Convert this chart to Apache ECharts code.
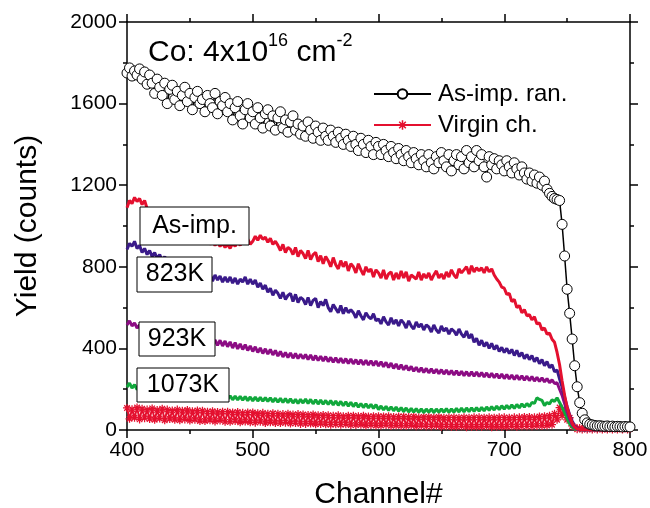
<!DOCTYPE html>
<html>
<head>
<meta charset="utf-8">
<script src="https://cdn.jsdelivr.net/npm/echarts@6/dist/echarts.min.js"></script>
<style>html,body{margin:0;padding:0;background:#fff}#c{width:650px;height:508px}</style>
</head>
<body>
<div id="c"></div>
<script>
// channel axis: 400..800 in steps of 2
const startChannel = 400, channelStep = 2;
const xTicks = [400, 500, 600, 700, 800];
const yTicks = [0, 400, 800, 1200, 1600, 2000];

// As-implanted, random (open circles)
const asImpRandom = [
 1750,1775,1735,1760,1740,1770,1720,1755,1695,1740,
 1700,1650,1720,1680,1640,1700,1600,1670,1690,1620,
 1660,1590,1640,1680,1610,1650,1570,1630,1660,1600,
 1620,1560,1640,1600,1580,1650,1550,1610,1590,1630,
 1560,1600,1520,1580,1610,1540,1500,1570,1600,1530,
 1560,1500,1580,1530,1480,1550,1570,1490,1540,1470,
 1530,1560,1480,1520,1460,1510,1540,1470,1500,1450,
 1490,1440,1510,1470,1430,1490,1460,1420,1480,1440,
 1420,1470,1440,1410,1460,1430,1400,1450,1420,1390,
 1440,1400,1370,1430,1400,1360,1420,1390,1350,1410,
 1390,1350,1400,1370,1340,1390,1360,1330,1380,1350,
 1320,1370,1340,1310,1360,1330,1300,1350,1320,1290,
 1350,1310,1280,1340,1310,1360,1320,1290,1350,1270,
 1320,1350,1300,1340,1280,1370,1310,1340,1290,1370,
 1320,1350,1290,1240,1340,1300,1330,1280,1320,1300,
 1270,1320,1290,1260,1310,1280,1250,1290,1260,1230,
 1260,1220,1250,1210,1240,1200,1220,1180,1160,1145,
 1135,1130,1125,1008,853,690,572,446,315,212,
 134,82,50,35,28,25,22,20,21,19,
 18,20,17,19,16,18,17,15,17,16,
 15
];
// As-implanted, aligned (red)
const asImp = [
 1090,1125,1110,1140,1120,1135,1105,1125,1085,1075,
 1070,1040,1055,1025,1040,1010,1025,995,1005,980,
 990,960,975,950,965,940,955,930,950,925,
 940,915,935,910,925,905,920,900,915,895,
 910,890,915,900,925,905,930,915,935,910,
 925,950,930,955,935,945,920,940,910,925,
 905,880,910,870,895,885,860,895,850,880,
 865,840,880,835,860,870,825,855,815,850,
 830,800,845,810,790,830,800,825,780,815,
 800,770,815,785,760,800,775,790,750,785,
 770,745,785,740,765,775,735,770,740,780,
 745,775,730,760,750,740,775,735,765,745,
 770,735,760,780,745,765,740,775,750,785,
 760,745,790,770,785,800,765,805,775,795,
 780,795,770,800,775,790,760,740,725,700,
 695,665,670,630,640,600,610,575,590,560,
 565,540,555,520,525,490,500,470,475,445,
 430,380,320,240,170,110,70,35,15,6,
 3,2,1,1,0,0,0,0,0,0,
 0,0,0,0,0,0,0,0,0,0,
 0
];
// 823K anneal (indigo)
const k823 = [
 885,915,900,925,890,905,870,890,860,880,
 850,870,840,860,830,850,815,840,805,830,
 795,820,785,810,775,800,765,790,755,780,
 745,770,740,765,730,760,735,755,725,750,
 725,750,720,745,715,740,725,750,715,740,
 715,735,700,720,690,710,675,695,660,685,
 670,645,675,640,660,670,630,665,625,650,
 640,615,650,610,635,645,600,630,610,640,
 600,580,615,595,575,610,570,600,575,590,
 575,550,585,560,540,575,555,545,570,535,
 545,520,555,530,515,550,520,540,510,540,
 525,500,535,510,495,530,505,520,490,515,
 505,480,515,490,475,510,485,500,470,495,
 485,465,495,470,455,485,450,470,430,450,
 415,440,410,430,400,425,395,415,385,405,
 380,400,375,395,365,390,360,380,350,370,
 345,365,335,355,325,345,315,335,305,320,
 285,295,250,210,160,114,75,45,20,8,
 3,1,0,0,0,0,0,0,0,0,
 0,0,0,0,0,0,0,0,0,0,
 0
];
// 923K anneal (purple)
const k923 = [
 515,535,510,525,500,515,490,505,480,495,
 470,490,465,485,460,480,455,475,450,470,
 445,465,440,460,435,455,430,450,428,448,
 425,450,420,445,418,442,415,440,412,436,
 408,432,402,428,398,422,395,418,390,412,
 385,408,380,402,375,398,372,395,368,390,
 362,385,358,380,355,378,352,375,350,372,
 350,370,345,368,342,365,340,362,338,360,
 335,356,332,354,330,352,328,350,326,348,
 324,345,322,344,320,342,318,340,316,338,
 314,335,310,332,306,328,302,324,298,320,
 295,316,292,312,288,308,285,305,282,302,
 280,300,278,298,276,296,274,294,272,292,
 270,290,268,288,266,286,265,285,264,284,
 262,282,260,280,258,278,256,276,254,274,
 252,272,250,270,248,268,246,266,244,264,
 242,262,240,258,238,256,236,252,232,246,
 228,232,200,170,130,90,55,28,12,4,
 1,0,0,0,0,0,0,0,0,0,
 0,0,0,0,0,0,0,0,0,0,
 0
];
// 1073K anneal (green)
const k1073 = [
 210,230,205,222,198,212,190,205,186,200,
 180,196,176,192,172,190,170,188,168,185,
 166,183,164,181,162,180,160,178,158,176,
 156,174,154,172,153,171,152,170,150,168,
 150,168,148,166,147,165,146,164,144,162,
 143,162,142,160,141,159,140,158,138,156,
 136,155,135,154,134,153,132,151,130,150,
 132,152,130,150,128,148,127,147,126,145,
 125,144,123,142,121,140,119,138,117,136,
 115,133,112,130,110,128,108,126,106,124,
 100,118,98,116,96,114,94,112,92,110,
 90,108,88,106,87,105,86,104,85,103,
 86,104,85,103,86,104,87,105,86,104,
 87,106,88,107,89,108,90,109,91,110,
 92,111,94,113,96,115,98,117,100,119,
 102,121,104,123,106,125,108,128,112,130,
 115,135,130,158,150,145,120,135,128,148,
 140,158,135,112,85,55,30,14,5,2,
 0,0,0,0,0,0,0,0,0,0,
 0,0,0,0,0,0,0,0,0,0,
 0
];
// Virgin crystal, aligned (red asterisks)
const virgin = [
 108,55,102,60,110,52,104,58,100,54,
 106,50,98,56,104,48,100,54,96,50,
 100,48,94,52,98,46,92,50,96,44,
 94,44,90,48,92,42,88,46,90,40,
 90,40,86,44,88,38,84,42,86,38,
 86,36,82,40,84,34,80,38,82,34,
 80,34,78,36,80,32,76,34,78,30,
 76,30,74,32,76,28,72,30,74,28,
 72,26,70,28,72,26,68,28,70,24,
 70,24,68,26,70,22,66,24,68,22,
 68,22,66,24,68,20,64,22,66,20,
 66,20,64,22,66,18,62,20,64,18,
 64,18,62,20,64,16,60,18,62,16,
 62,16,60,18,62,14,60,16,62,16,
 62,16,60,18,62,14,60,16,62,16,
 62,16,60,18,62,16,62,18,64,18,
 64,18,62,20,66,20,68,22,70,26,
 80,50,110,70,100,50,60,20,15,4,
 10,2,12,3,10,2,11,3,10,2,
 10,2,11,3,10,2,12,3,10,2,
 6
];

const FONT = '"Liberation Sans", Arial, Helvetica, sans-serif';
const RED = '#e4102f', INDIGO = '#3a1a8a', PURPLE = '#8c0c84', GREEN = '#11a83c';

function pairs(arr) { return arr.map((v, i) => [startChannel + i * channelStep, v]); }

const asterisk = 'path://M0,4.2H10V5.8H0Z M4.2,0H5.8V10H4.2Z M1,2.1L2.1,1L9,7.9L7.9,9Z M7.9,1L9,2.1L2.1,9L1,7.9Z';

const axisCommon = {
  axisLine: { show: true, onZero: false, lineStyle: { color: '#000', width: 1.5 } },
  axisTick: { show: true, inside: false, length: 8, lineStyle: { color: '#000', width: 1.5 } },
  minorTick: { show: true, splitNumber: 2, length: 4, lineStyle: { color: '#000', width: 1.5 } },
  splitLine: { show: false },
  minorSplitLine: { show: false }
};

const chart = echarts.init(document.getElementById('c'), null, { renderer: 'canvas' });
chart.setOption({
  animation: false,
  backgroundColor: '#fff',
  grid: { left: 127, right: 20, top: 22, bottom: 78, containLabel: false, outerBoundsMode: 'none' },
  xAxis: [
    Object.assign({}, axisCommon, {
      type: 'value', position: 'bottom', min: xTicks[0], max: xTicks[xTicks.length - 1], interval: 100,
      axisLabel: { show: true, color: '#000', fontSize: 21, fontFamily: FONT, margin: 10, formatter: v => String(v) },
      name: 'Channel#', nameLocation: 'middle', nameGap: 50,
      nameTextStyle: { color: '#000', fontSize: 30, fontFamily: FONT }
    }),
    Object.assign({}, axisCommon, {
      type: 'value', position: 'top', min: xTicks[0], max: xTicks[xTicks.length - 1], interval: 100,
      axisLabel: { show: false }
    })
  ],
  yAxis: [
    Object.assign({}, axisCommon, {
      type: 'value', position: 'left', min: yTicks[0], max: yTicks[yTicks.length - 1], interval: 400,
      axisLabel: { show: true, color: '#000', fontSize: 21, fontFamily: FONT, margin: 10, formatter: v => String(v) },
      name: 'Yield (counts)', nameLocation: 'middle', nameGap: 84, nameRotate: 90,
      nameTextStyle: { color: '#000', fontSize: 30, fontFamily: FONT }
    }),
    Object.assign({}, axisCommon, {
      type: 'value', position: 'right', min: yTicks[0], max: yTicks[yTicks.length - 1], interval: 400,
      axisLabel: { show: false }
    })
  ],
  legend: {
    data: ['As-imp. ran.', 'Virgin ch.'],
    orient: 'vertical', left: 368, top: 77,
    itemWidth: 57, itemHeight: 12, itemGap: 7,
    textStyle: { color: '#000', fontSize: 24, fontFamily: FONT, lineHeight: 24, padding: [0, 0, 0, 2] }
  },
  series: [
    {
      name: 'Virgin ch.', type: 'line', data: pairs(virgin),
      symbol: asterisk, symbolSize: 8, showSymbol: true, showAllSymbol: true,
      lineStyle: { color: RED, width: 2 }, itemStyle: { color: RED }, z: 2
    },
    {
      name: '1073K', type: 'line', data: pairs(k1073), symbol: 'none',
      lineStyle: { color: GREEN, width: 3 }, itemStyle: { color: GREEN }, z: 3
    },
    {
      name: '923K', type: 'line', data: pairs(k923), symbol: 'none',
      lineStyle: { color: PURPLE, width: 3 }, itemStyle: { color: PURPLE }, z: 3
    },
    {
      name: '823K', type: 'line', data: pairs(k823), symbol: 'none',
      lineStyle: { color: INDIGO, width: 3 }, itemStyle: { color: INDIGO }, z: 3
    },
    {
      name: 'As-imp.', type: 'line', data: pairs(asImp), symbol: 'none',
      lineStyle: { color: RED, width: 3 }, itemStyle: { color: RED }, z: 3
    },
    {
      name: 'As-imp. ran.', type: 'line', data: pairs(asImpRandom),
      symbol: 'circle', symbolSize: 10, showSymbol: true, showAllSymbol: true,
      lineStyle: { color: '#000', width: 1.5 },
      itemStyle: { color: '#fff', borderColor: '#000', borderWidth: 1 }, z: 4
    }
  ],
  graphic: [
    {
      type: 'text', left: 148, top: 32, z: 100,
      style: {
        text: '{a|Co: 4x10}{s|16}{a| cm}{s|-2}',
        rich: {
          a: { fontSize: 30, fontFamily: FONT, fill: '#000', lineHeight: 36, verticalAlign: 'bottom' },
          s: { fontSize: 18, fontFamily: FONT, fill: '#000', lineHeight: 18, verticalAlign: 'top' }
        }
      }
    },
    { type: 'rect', shape: { x: 140, y: 207, width: 109, height: 38 }, style: { fill: '#fff', stroke: '#000', lineWidth: 1 }, z: 100 },
    { type: 'text', x: 194.5, y: 226, style: { text: 'As-imp.', fontSize: 25, fontFamily: FONT, fill: '#000', align: 'center', verticalAlign: 'middle' }, z: 101 },
    { type: 'rect', shape: { x: 137, y: 257, width: 75, height: 35 }, style: { fill: '#fff', stroke: '#000', lineWidth: 1 }, z: 100 },
    { type: 'text', x: 175, y: 274.5, style: { text: '823K', fontSize: 25, fontFamily: FONT, fill: '#000', align: 'center', verticalAlign: 'middle' }, z: 101 },
    { type: 'rect', shape: { x: 139, y: 322, width: 76, height: 34 }, style: { fill: '#fff', stroke: '#000', lineWidth: 1 }, z: 100 },
    { type: 'text', x: 177, y: 339, style: { text: '923K', fontSize: 25, fontFamily: FONT, fill: '#000', align: 'center', verticalAlign: 'middle' }, z: 101 },
    { type: 'rect', shape: { x: 137, y: 368, width: 92, height: 34 }, style: { fill: '#fff', stroke: '#000', lineWidth: 1 }, z: 100 },
    { type: 'text', x: 183, y: 385, style: { text: '1073K', fontSize: 25, fontFamily: FONT, fill: '#000', align: 'center', verticalAlign: 'middle' }, z: 101 }
  ]
});
</script>
</body>
</html>
